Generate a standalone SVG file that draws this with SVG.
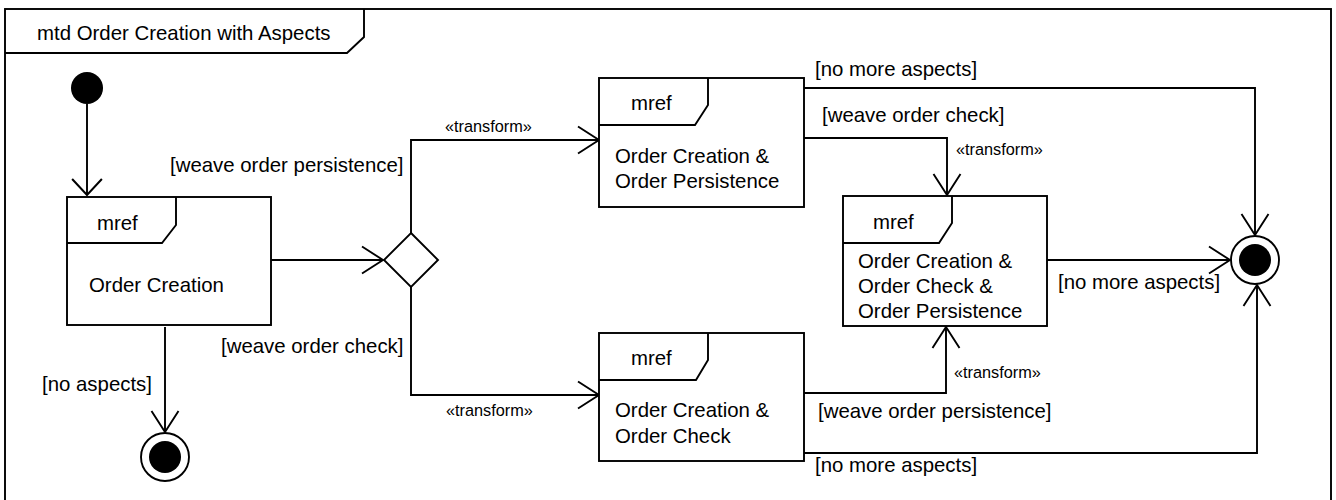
<svg xmlns="http://www.w3.org/2000/svg" width="1336" height="500" viewBox="0 0 1336 500">
<style>
.ln{fill:none;stroke:#000;stroke-width:1.9}
.bx{fill:#fff;stroke:#000;stroke-width:1.9}
.t{font-family:"Liberation Sans",Arial,sans-serif;font-size:20.4px;fill:#000}
.s{font-family:"Liberation Sans",Arial,sans-serif;font-size:16.3px;fill:#000}
</style>
<defs>
<marker id="arr" markerUnits="userSpaceOnUse" markerWidth="30" markerHeight="30" viewBox="-22 -15 24 30" refX="0" refY="0" orient="auto">
<path d="M-21,-13.5 L0,0 L-21,13.5" fill="none" stroke="#000" stroke-width="1.9"/>
</marker>
<marker id="arr0" markerUnits="userSpaceOnUse" markerWidth="30" markerHeight="34" viewBox="-18 -16 20 32" refX="0" refY="0" orient="auto">
<path d="M-15,-14 L0,0 L-15,14" fill="none" stroke="#000" stroke-width="1.9"/>
</marker>
</defs>
<rect width="1336" height="500" fill="#fff"/>
<g id="frame">
<rect x="5" y="9" width="1326" height="510" class="ln"/>
<polyline points="5,53 347,53 364,37 364,9" class="ln"/>
<text x="37" y="40" class="t">mtd Order Creation with Aspects</text>
</g>
<g id="connectors">
<line x1="87" y1="104" x2="87" y2="195" class="ln" marker-end="url(#arr0)"/>
<line x1="271" y1="260" x2="383" y2="260" class="ln" marker-end="url(#arr)"/>
<polyline points="411,233 411,140 599,140" class="ln" marker-end="url(#arr)"/>
<polyline points="411,287 411,395 599,395" class="ln" marker-end="url(#arr)"/>
<line x1="165" y1="327" x2="165" y2="432" class="ln" marker-end="url(#arr)"/>
<polyline points="804,88 1255,88 1255,235" class="ln" marker-end="url(#arr)"/>
<polyline points="804,138 947,138 947,195" class="ln" marker-end="url(#arr)"/>
<line x1="1047" y1="260" x2="1230" y2="260" class="ln" marker-end="url(#arr)"/>
<polyline points="804,393 946,393 946,327" class="ln" marker-end="url(#arr)"/>
<polyline points="804,453 1257,453 1257,285" class="ln" marker-end="url(#arr)"/>
<text x="170" y="172" class="t">[weave order persistence]</text>
<text x="221" y="353" class="t">[weave order check]</text>
<text x="42" y="391" class="t">[no aspects]</text>
<text x="445" y="132" class="s">«transform»</text>
<text x="446" y="416" class="s">«transform»</text>
<text x="815" y="76" class="t">[no more aspects]</text>
<text x="822" y="122" class="t">[weave order check]</text>
<text x="956" y="155" class="s">«transform»</text>
<text x="1058" y="289" class="t">[no more aspects]</text>
<text x="954" y="378" class="s">«transform»</text>
<text x="818" y="418" class="t">[weave order persistence]</text>
<text x="815" y="472" class="t">[no more aspects]</text>
</g>
<g id="initial">
<circle cx="87" cy="88" r="16" fill="#000"/>
</g>
<g id="final-no-aspects">
<circle cx="165" cy="457" r="24" class="bx"/>
<circle cx="165" cy="457" r="16" fill="#000"/>
</g>
<g id="final-main">
<circle cx="1255" cy="260" r="24" class="bx"/>
<circle cx="1255" cy="260" r="16" fill="#000"/>
</g>
<g id="decision">
<polygon points="411,233 438,260 411,287 384,260" class="bx"/>
</g>
<g id="order-creation">
<rect x="67" y="197" width="204" height="128" class="bx"/>
<polyline points="67,243 162,243 176,225 176,197" class="ln"/>
<text x="97" y="230" class="t">mref</text>
<text x="89" y="292" class="t">Order Creation</text>
</g>
<g id="oc-op">
<rect x="599" y="78" width="205" height="129" class="bx"/>
<polyline points="599,125 695,125 708,105 708,78" class="ln"/>
<text x="631" y="110" class="t">mref</text>
<text x="615" y="163" class="t">Order Creation &amp;</text>
<text x="615" y="188" class="t">Order Persistence</text>
</g>
<g id="oc-oc">
<rect x="599" y="333" width="205" height="128" class="bx"/>
<polyline points="599,380 696,380 708,360 708,333" class="ln"/>
<text x="631" y="365" class="t">mref</text>
<text x="615" y="417" class="t">Order Creation &amp;</text>
<text x="615" y="443" class="t">Order Check</text>
</g>
<g id="oc-oc-op">
<rect x="843" y="196" width="204" height="130" class="bx"/>
<polyline points="843,243 939,243 952,223 952,196" class="ln"/>
<text x="873" y="229" class="t">mref</text>
<text x="858" y="268" class="t">Order Creation &amp;</text>
<text x="858" y="293" class="t">Order Check &amp;</text>
<text x="858" y="318" class="t">Order Persistence</text>
</g>
</svg>
